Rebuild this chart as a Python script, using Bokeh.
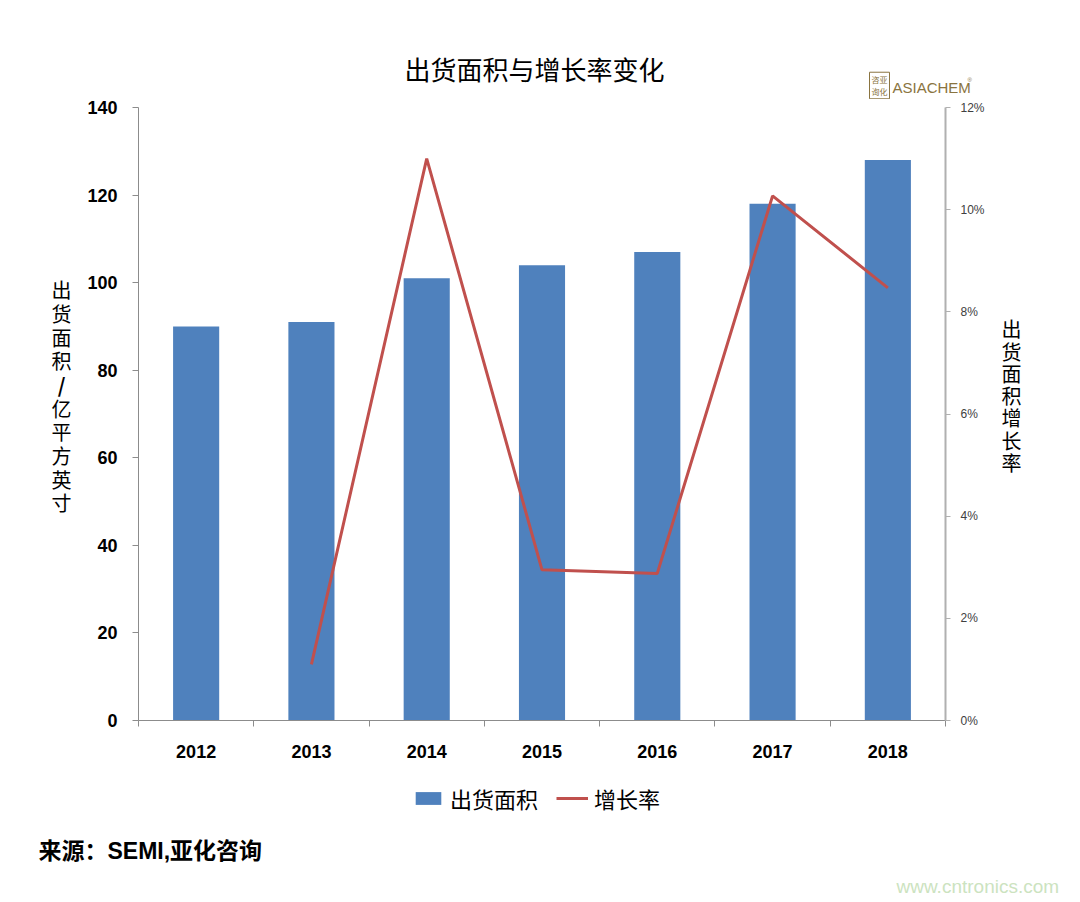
from bokeh.plotting import figure
from bokeh.layouts import column, row
from bokeh.models import (Range1d, LinearAxis, FixedTicker, Legend, LegendItem,
                          PrintfTickFormatter, ColumnDataSource)
from bokeh.core.properties import value
from bokeh.embed import file_html
from bokeh.resources import INLINE

years = ["2012", "2013", "2014", "2015", "2016", "2017", "2018"]
area = [90, 91, 101, 104, 107, 118, 128]
rate_years = ["2013", "2014", "2015", "2016", "2017", "2018"]
rate = [1.1, 11.0, 2.95, 2.88, 10.27, 8.47]
left_ticks = [0, 20, 40, 60, 80, 100, 120, 140]
right_ticks = [0, 2, 4, 6, 8, 10, 12]

title_text = "出货面积与增长率变化"
left_label = "出货面积/亿平方英寸"
right_label = "出货面积增长率"
series_names = ["出货面积", "增长率"]
source_text = "来源：SEMI,亚化咨询"
watermark = "www.cntronics.com"

CJK = "Noto Sans CJK SC"
LAT = "Liberation Sans"
MIX = "Liberation Sans, Noto Sans CJK SC"
BAR = "#4f81bd"
LINE = "#c0504d"
LOGO = "#8a7440"

# page layout (px)
TOTAL_W, TOTAL_H = 1080, 902
TOP_H = 99
BOT_Y = 775
LEFT_W = 80
RIGHT_X = 995
MAIN_W = RIGHT_X - LEFT_W
MAIN_H = BOT_Y - TOP_H


def blank(w, h):
    f = figure(width=w, height=h, output_backend="svg", toolbar_location=None,
               x_range=Range1d(0, w), y_range=Range1d(h, 0), min_border=0,
               x_axis_type=None, y_axis_type=None, title=None)
    f.outline_line_color = None
    f.xgrid.visible = False
    f.ygrid.visible = False
    f.background_fill_color = "white"
    f.border_fill_color = "white"
    return f


def txt(f, ox, oy, x, y, text, size, font=CJK, bold=False, color="#000000", align="center", **kw):
    f.text(x=[x - ox], y=[y - oy], text=[text], text_font=value(font),
           text_font_size=f"{size}px", text_font_style="bold" if bold else "normal",
           text_color=color, text_align=align, text_baseline="middle", **kw)


# ---------------- main chart ----------------
FL, FR, FT, FB = 138, 945, 107, 720  # frame in page px
p = figure(width=MAIN_W, height=MAIN_H, output_backend="svg", toolbar_location=None,
           x_range=Range1d(0, len(years)), y_range=Range1d(0, 140),
           min_border_left=FL - LEFT_W, min_border_right=RIGHT_X - FR,
           min_border_top=FT - TOP_H, min_border_bottom=BOT_Y - FB,
           x_axis_type=None, y_axis_type=None, title=None)
p.outline_line_color = None
p.xgrid.visible = False
p.ygrid.visible = False
p.background_fill_color = "white"
p.border_fill_color = "white"
p.extra_y_ranges = {"rate": Range1d(0, 12)}

xc = [i + 0.5 for i in range(len(years))]
src = ColumnDataSource(dict(x=xc, top=area))
p.vbar(x="x", top="top", width=0.4, source=src, fill_color=BAR, line_color=None)

rx = [years.index(y) + 0.5 for y in rate_years]
p.line(rx, rate, y_range_name="rate", line_color=LINE, line_width=3)

xaxis = LinearAxis(ticker=FixedTicker(ticks=xc, minor_ticks=list(range(len(years) + 1))),
                   major_label_overrides={x: y for x, y in zip(xc, years)})
xaxis.major_tick_out = 0
xaxis.major_tick_in = 0
xaxis.minor_tick_out = 6
xaxis.minor_tick_in = 0
xaxis.minor_tick_line_color = "#8c8c8c"
xaxis.axis_line_color = "#8c8c8c"
xaxis.major_label_text_font = LAT
xaxis.major_label_text_font_style = "bold"
xaxis.major_label_text_font_size = "18px"
xaxis.major_label_text_color = "#000000"
xaxis.major_label_standoff = 18
p.add_layout(xaxis, "below")

yaxis = LinearAxis(ticker=FixedTicker(ticks=left_ticks, minor_ticks=[]))
yaxis.axis_line_color = "#8c8c8c"
yaxis.major_tick_line_color = "#8c8c8c"
yaxis.major_tick_out = 6
yaxis.major_tick_in = 0
yaxis.major_label_text_font = LAT
yaxis.major_label_text_font_style = "bold"
yaxis.major_label_text_font_size = "18px"
yaxis.major_label_text_color = "#000000"
yaxis.major_label_standoff = 15
p.add_layout(yaxis, "left")

raxis = LinearAxis(y_range_name="rate", ticker=FixedTicker(ticks=right_ticks, minor_ticks=[]),
                   formatter=PrintfTickFormatter(format="%d%%"))
raxis.axis_line_color = "#b0b0b0"
raxis.axis_line_width = 2
raxis.major_tick_line_color = "#b0b0b0"
raxis.major_tick_out = 5
raxis.major_tick_in = 0
raxis.major_label_text_font = LAT
raxis.major_label_text_font_size = "12px"
raxis.major_label_text_color = "#404040"
raxis.major_label_standoff = 10
p.add_layout(raxis, "right")

# ---------------- title strip ----------------
tf = blank(TOTAL_W, TOP_H)
txt(tf, 0, 0, 534, 68, title_text, 26)
txt(tf, 0, 0, 879, 85, "咨亚\n询化", 8, color=LOGO,
    border_line_color=LOGO, border_line_width=1, padding=2, text_line_height=1.05)
txt(tf, 0, 0, 892, 87, "ASIACHEM", 15, font=LAT, color=LOGO, align="left")
txt(tf, 0, 0, 967, 79, "®", 6, font=LAT, color=LOGO, align="left")

# ---------------- left strip ----------------
lf = blank(LEFT_W, MAIN_H)
for i, ch in enumerate(left_label):
    txt(lf, 0, TOP_H, 61, 300 + i * 26.1, ch, 20, bold=(ch == "/"))

# ---------------- right strip ----------------
rf = blank(TOTAL_W - RIGHT_X, MAIN_H)
for i, ch in enumerate(right_label):
    txt(rf, RIGHT_X, TOP_H, 1011, 343 + i * 24.6, ch, 20)

# ---------------- bottom strip ----------------
bh = TOTAL_H - BOT_Y
bf = blank(TOTAL_W, bh)
# hidden copies of the series, used only as legend swatches
lb = bf.vbar(x=xc, top=area, width=0.4, fill_color=BAR, line_color=None, visible=False)
ll = bf.line(rx, rate, line_color=LINE, line_width=3, visible=False)
txt(bf, 0, BOT_Y, 38, 850, source_text, 23, font=MIX, bold=True, align="left")
txt(bf, 0, BOT_Y, 896, 886, watermark, 19, font=LAT, color="#cce3bf", align="left")

legend = Legend(items=[LegendItem(label=series_names[0], renderers=[lb]),
                       LegendItem(label=series_names[1], renderers=[ll])],
                orientation="horizontal", location=(412, TOTAL_H - 814))
legend.label_text_font = CJK
legend.label_text_font_size = "22px"
legend.label_text_color = "#000000"
legend.glyph_width = 32
legend.glyph_height = 16
legend.label_standoff = 6
legend.spacing = 18
legend.padding = 0
legend.margin = 0
legend.border_line_color = None
legend.background_fill_alpha = 0
legend.inactive_fill_alpha = 0
bf.add_layout(legend, "center")

layout = column(tf, row(lf, p, rf, spacing=0), bf, spacing=0)
open("out.html", "w").write(file_html(layout, INLINE))
